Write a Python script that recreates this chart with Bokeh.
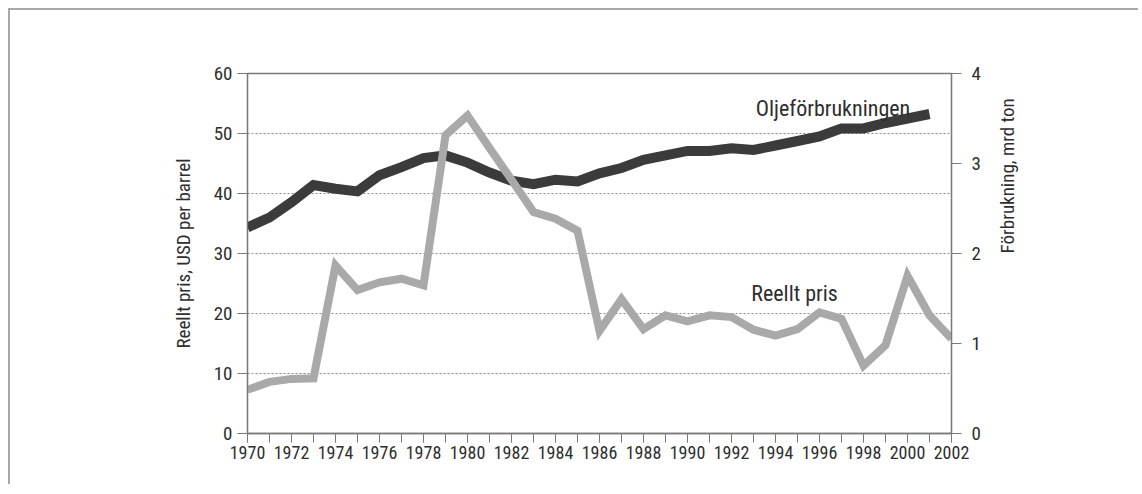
import math
from bokeh.plotting import figure
from bokeh.models import LinearAxis, Range1d, SingleIntervalTicker, FixedTicker, Label
from bokeh.embed import file_html
from bokeh.resources import INLINE

years = list(range(1970, 2003))
price = [7.3, 8.6, 9.1, 9.2, 28.0, 23.9, 25.2, 25.8, 24.7, 49.7,
         53.0, 47.6, 42.3, 36.9, 35.8, 33.8, 17.1, 22.4, 17.4, 19.7,
         18.7, 19.7, 19.4, 17.3, 16.3, 17.4, 20.2, 19.1, 11.3, 14.7,
         26.3, 19.7, 15.8]
cons_years = list(range(1970, 2002))
consumption = [2.29, 2.40, 2.57, 2.76, 2.72, 2.69, 2.87, 2.96, 3.06, 3.09,
               3.01, 2.90, 2.81, 2.77, 2.82, 2.80, 2.89, 2.95, 3.04, 3.09,
               3.14, 3.14, 3.17, 3.15, 3.20, 3.25, 3.30, 3.39, 3.39, 3.45,
               3.50, 3.55]
left_ticks = [0, 10, 20, 30, 40, 50, 60]
right_ticks = [0, 1, 2, 3, 4]
grid_ticks = [10, 20, 30, 40, 50]

FONT = "'Roboto Condensed', 'DejaVu Sans Condensed', sans-serif"
TXT = "#2e2e2e"
AX = "#7a7a7a"

p = figure(width=1130, height=476, output_backend="svg", toolbar_location=None,
           x_range=Range1d(1970, 2002), y_range=Range1d(0, 60),
           min_border_left=237, min_border_right=189, min_border_top=63,
           min_border_bottom=53,
           styles={"border-top": "2px solid #a8a8a8", "border-left": "2px solid #a8a8a8",
                   "margin-left": "8px", "margin-top": "8px"})
p.extra_y_ranges = {"cons": Range1d(0, 4)}

p.outline_line_color = AX
p.outline_line_width = 1.3
p.background_fill_color = "white"
p.border_fill_color = "white"

# x axis
xa = p.xaxis[0]
xa.ticker = SingleIntervalTicker(interval=2, num_minor_ticks=2)
xa.axis_line_color = AX
xa.axis_line_width = 1.3
xa.major_tick_line_color = AX
xa.minor_tick_line_color = AX
xa.major_tick_in = 0
xa.major_tick_out = 9
xa.minor_tick_in = 0
xa.minor_tick_out = 9
xa.major_label_text_font = FONT
xa.major_label_text_font_size = "18px"
xa.major_label_text_color = TXT
xa.major_label_standoff = 3
p.xgrid.visible = False

# left axis
ya = p.yaxis[0]
ya.ticker = FixedTicker(ticks=left_ticks)
ya.axis_line_color = AX
ya.axis_line_width = 1.3
ya.major_tick_line_color = AX
ya.major_tick_in = 0
ya.major_tick_out = 10
ya.minor_tick_line_color = None
ya.major_label_text_font = FONT
ya.major_label_text_font_size = "19px"
ya.major_label_text_color = TXT
ya.major_label_standoff = 5
ya.axis_label = "Reellt pris, USD per barrel"
ya.axis_label_text_font = FONT
ya.axis_label_text_font_size = "19px"
ya.axis_label_text_font_style = "normal"
ya.axis_label_text_color = TXT
ya.axis_label_standoff = 16

p.ygrid.ticker = FixedTicker(ticks=grid_ticks)
p.ygrid.grid_line_color = "#8a8a8a"
p.ygrid.grid_line_dash = "2 2"
p.ygrid.grid_line_width = 1

# right axis
ra = LinearAxis(y_range_name="cons", ticker=FixedTicker(ticks=right_ticks))
ra.axis_line_color = AX
ra.axis_line_width = 1.3
ra.major_tick_line_color = AX
ra.major_tick_in = 0
ra.major_tick_out = 10
ra.minor_tick_line_color = None
ra.major_label_text_font = FONT
ra.major_label_text_font_size = "19px"
ra.major_label_text_color = TXT
ra.major_label_standoff = 10
ra.axis_label = "Förbrukning, mrd ton"
ra.axis_label_text_font = FONT
ra.axis_label_text_font_size = "19px"
ra.axis_label_text_font_style = "normal"
ra.axis_label_text_color = TXT
ra.axis_label_standoff = 24
ra.axis_label_orientation = math.pi / 2
p.add_layout(ra, "right")

# lines
p.line(cons_years, consumption, y_range_name="cons", line_color="#3b3b3b",
       line_width=10, line_join="miter")
p.line(years, price, line_color="#a9a9a9", line_width=8, line_join="miter")

p.add_layout(Label(x=1993.1, y=54.2, text="Oljeförbrukningen", text_font=FONT,
                   text_font_size="22px", text_color=TXT, text_align="left",
                   text_baseline="middle"))
p.add_layout(Label(x=1992.9, y=23.3, text="Reellt pris", text_font=FONT,
                   text_font_size="22px", text_color=TXT, text_align="left",
                   text_baseline="middle"))

open("out.html", "w").write(file_html(p, INLINE))
